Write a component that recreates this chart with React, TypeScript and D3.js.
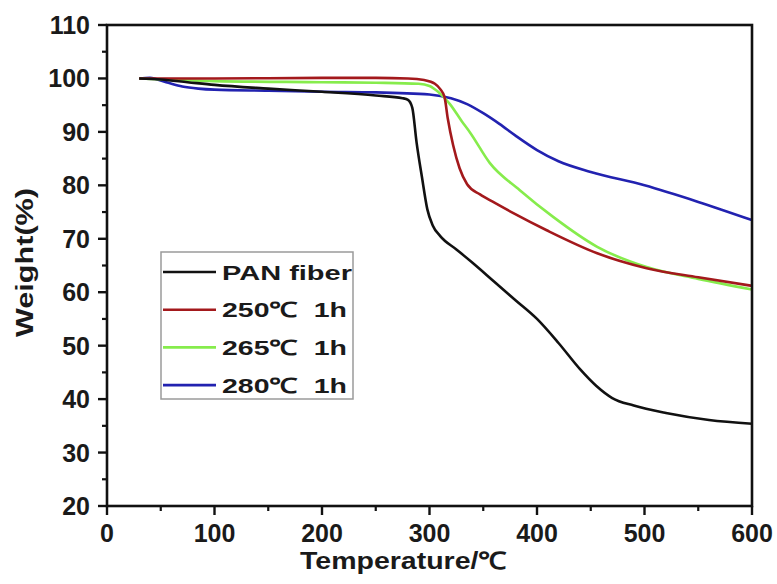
import React from "react";
import * as d3 from "d3";

// PAN fiber (untreated)
const panTemp = [30, 50, 75, 100, 150, 200, 250, 275, 280, 284, 288, 293, 298, 303, 310, 325, 340, 360, 380, 400, 420, 440, 455, 470, 490, 520, 560, 600];
const panWeight = [100, 99.8, 99.3, 98.8, 98.1, 97.5, 96.8, 96.3, 96.0, 94.5, 88, 81.5, 75.5, 72.5, 70.5, 68, 65.5, 62, 58.5, 55, 50.5, 45.6, 42.5, 40.2, 38.8, 37.4, 36.1, 35.4];

// 250 C 1h
const t250Temp = [30, 100, 200, 250, 280, 295, 305, 310, 314, 317, 322, 328, 335, 347, 360, 378, 409, 456, 502, 550, 600];
const t250Weight = [100, 100, 100.1, 100.1, 100, 99.7, 99, 98, 96.5, 92.5, 87.5, 83.2, 80.2, 78.3, 76.8, 74.8, 71.6, 67.3, 64.5, 62.8, 61.2];

// 265 C 1h
const t265Temp = [30, 100, 200, 250, 290, 300, 308, 319, 330, 338, 356, 384, 415, 456, 502, 550, 600];
const t265Weight = [100, 99.5, 99.3, 99.2, 99, 98.6, 97.5, 95.2, 92, 89.8, 84.2, 79.1, 74.1, 68.5, 64.7, 62.5, 60.5];

// 280 C 1h
const t280Temp = [30, 40, 55, 70, 85, 100, 150, 200, 250, 300, 320, 335, 350, 365, 380, 400, 420, 450, 500, 550, 600];
const t280Weight = [100, 100.1, 99.3, 98.5, 98.1, 97.9, 97.7, 97.5, 97.4, 97.0, 96.3, 95.2, 93.5, 91.5, 89.3, 86.6, 84.5, 82.5, 80, 76.9, 73.5];

const seriesNames = ["PAN fiber", "250\u2103  1h", "265\u2103  1h", "280\u2103  1h"];
const seriesColors = ["#111111", "#a3191c", "#86ec4c", "#2222b0"];
const legendWidths = [130, 125, 125, 125];

const xTickValues = [0, 100, 200, 300, 400, 500, 600];
const yTickValues = [20, 30, 40, 50, 60, 70, 80, 90, 100, 110];

const W = 777;
const H = 584;
const margin = { left: 107, right: 25, top: 25, bottom: 78 };

export default function App() {
  const x = d3.scaleLinear().domain([0, 600]).range([margin.left, W - margin.right]);
  const y = d3.scaleLinear().domain([20, 110]).range([H - margin.bottom, margin.top]);

  const series = [
    panTemp.map((t, i) => [t, panWeight[i]]),
    t250Temp.map((t, i) => [t, t250Weight[i]]),
    t265Temp.map((t, i) => [t, t265Weight[i]]),
    t280Temp.map((t, i) => [t, t280Weight[i]]),
  ];

  const line = d3
    .line<number[]>()
    .x(d => x(d[0]))
    .y(d => y(d[1]))
    .curve(d3.curveMonotoneX);

  const xMinor = xTickValues.slice(0, -1).map(v => v + 50);
  const yMinor = yTickValues.slice(0, -1).map(v => v + 5);
  const font = "'Liberation Sans', Arial, sans-serif";
  const x0 = margin.left;
  const yb = H - margin.bottom;
  // draw order: last series first so black ends on top
  const drawOrder = [3, 2, 1, 0];

  return (
    <svg width={W} height={H} style={{ position: "absolute", left: 0, top: 0, background: "#fff" }} fontFamily={font}>
      <g>
        {drawOrder.map(i => (
          <path key={i} d={line(series[i] as any) || ""} fill="none" stroke={seriesColors[i]} strokeWidth={2.6} />
        ))}
      </g>
      <rect x={x0} y={margin.top} width={W - margin.right - x0} height={yb - margin.top} fill="none" stroke="#111" strokeWidth={2.6} />
      {yTickValues.map(v => (
        <g key={"y" + v}>
          <line x1={x0 - 9} x2={x0} y1={y(v)} y2={y(v)} stroke="#111" strokeWidth={2.4} />
          <text x={90} y={y(v)} dy="0.36em" textAnchor="end" fontSize={25} fontWeight="bold" fill="#1a1a1a">{v}</text>
        </g>
      ))}
      {yMinor.map(v => (
        <line key={"ym" + v} x1={x0 - 5} x2={x0} y1={y(v)} y2={y(v)} stroke="#111" strokeWidth={2.2} />
      ))}
      {xTickValues.map(v => (
        <g key={"x" + v}>
          <line x1={x(v)} x2={x(v)} y1={yb} y2={yb + 9} stroke="#111" strokeWidth={2.4} />
          <text x={x(v)} y={542} textAnchor="middle" fontSize={25} fontWeight="bold" fill="#1a1a1a">{v}</text>
        </g>
      ))}
      {xMinor.map(v => (
        <line key={"xm" + v} x1={x(v)} x2={x(v)} y1={yb} y2={yb + 5} stroke="#111" strokeWidth={2.2} />
      ))}
      <text x={403.5} y={569} textAnchor="middle" fontSize={24} fontWeight="bold" fill="#1a1a1a" textLength={207} lengthAdjust="spacingAndGlyphs">
        Temperature/{"\u2103"}
      </text>
      <text transform={`translate(33,262.5) rotate(-90)`} textAnchor="middle" fontSize={24} fontWeight="bold" fill="#1a1a1a" textLength={149} lengthAdjust="spacingAndGlyphs">
        Weight(%)
      </text>
      <g>
        <rect x={161} y={252} width={192} height={147} fill="#fff" stroke="#9a9a9a" strokeWidth={1.5} />
        {seriesNames.map((name, i) => {
          const ry = 272 + i * 37.7;
          return (
            <g key={name}>
              <line x1={163} x2={216} y1={ry} y2={ry} stroke={seriesColors[i]} strokeWidth={2.6} />
              <text x={222} y={ry + 7.5} fontSize={21} fontWeight="bold" fill="#1a1a1a" style={{ whiteSpace: "pre" }} textLength={legendWidths[i]} lengthAdjust="spacingAndGlyphs">
                {name}
              </text>
            </g>
          );
        })}
      </g>
    </svg>
  );
}
